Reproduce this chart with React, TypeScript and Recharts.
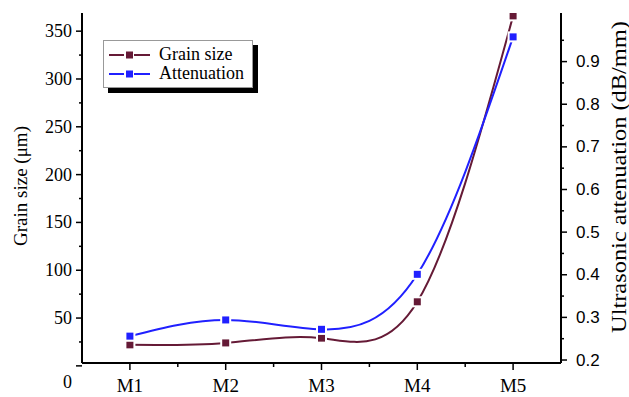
import React from 'react';
import { LineChart, Line, XAxis, YAxis, Legend } from 'recharts';

const categories = ['M1', 'M2', 'M3', 'M4', 'M5'];
const grainSize = [22, 24, 29, 67, 366];
const attenuation = [0.256, 0.294, 0.272, 0.401, 0.958];
const leftTicks = [0, 50, 100, 150, 200, 250, 300, 350];
const leftMinorTicks = [25, 75, 125, 175, 225, 275, 325];
const rightTicks = [0.2, 0.3, 0.4, 0.5, 0.6, 0.7, 0.8, 0.9];
const rightMinorTicks = [0.25, 0.35, 0.45, 0.55, 0.65, 0.75, 0.85, 0.95];
const leftTitle = 'Grain size (\u03bcm)';
const rightTitle = 'Ultrasonic attenuation (dB/mm)';
const seriesNames = ['Grain size', 'Attenuation'];

const MAROON = '#651a36';
const BLUE = '#2020ff';
const SERIF = '"Liberation Serif", "Times New Roman", serif';
const SANS = '"Liberation Sans", Arial, sans-serif';

const CHART_W = 629;
const CHART_H = 397;
const LEFT_W = 82;
const RIGHT_W = 68;
const BAND = (CHART_W - LEFT_W - RIGHT_W) / categories.length;

const data = categories.map((c, i) => ({ cat: c, grain: grainSize[i], att: attenuation[i] }));
const allLeftTicks = [...leftTicks, ...leftMinorTicks].sort((a, b) => a - b);
const allRightTicks = [...rightTicks, ...rightMinorTicks].sort((a, b) => a - b);

const makeDot = (color: string) => (props: any) => {
  const { cx, cy, index } = props;
  if (cx == null || cy == null) return <g key={index} />;
  return (
    <g key={`d-${color}-${index}`}>
      <rect x={cx - 5.5} y={cy - 5.5} width={11} height={11} fill="#fff" />
      <rect x={cx - 3.5} y={cy - 3.5} width={7} height={7} fill={color} />
    </g>
  );
};

const LEFT_MARGIN = 10;
const LeftTick = (props: any) => {
  const { x, y, payload } = props;
  const v = payload.value;
  const major = leftTicks.includes(v);
  const ax = x + LEFT_MARGIN;
  return (
    <g>
      <line x1={ax - (major ? 6 : 3)} y1={y} x2={ax} y2={y} stroke="#000" strokeWidth={1.5} />
      {major && (
        <text x={x} y={y + (v === 0 ? 16 : 0)} textAnchor="end" dominantBaseline="central"
          fontFamily={SERIF} fontSize={18} fill="#000">{v}</text>
      )}
    </g>
  );
};

const RIGHT_MARGIN = 15;
const RightTick = (props: any) => {
  const { x, y, payload } = props;
  const v = payload.value;
  const major = rightTicks.includes(v);
  const ax = x - RIGHT_MARGIN;
  return (
    <g>
      <line x1={ax} y1={y} x2={ax + (major ? 6 : 3)} y2={y} stroke="#000" strokeWidth={1.5} />
      {major && (
        <text x={x} y={y} textAnchor="start" dominantBaseline="central"
          fontFamily={SANS} fontSize={17} fill="#000">{v}</text>
      )}
    </g>
  );
};

const BOTTOM_MARGIN = 22;
const BottomTick = (props: any) => {
  const { x, y, payload, index } = props;
  const ay = y - BOTTOM_MARGIN;
  const last = index === categories.length - 1;
  return (
    <g>
      <line x1={x} y1={ay} x2={x} y2={ay + 7} stroke="#000" strokeWidth={1.5} />
      {!last && <line x1={x + BAND / 2} y1={ay} x2={x + BAND / 2} y2={ay + 4} stroke="#000" strokeWidth={1.5} />}
      <text x={x} y={y} textAnchor="middle" dominantBaseline="central"
        fontFamily={SERIF} fontSize={19} fill="#000">{payload.value}</text>
    </g>
  );
};

const TopTick = (props: any) => {
  const { x, y, index } = props;
  const last = index === categories.length - 1;
  return (
    <g>
      <line x1={x} y1={y} x2={x} y2={y + 4} stroke="#000" strokeWidth={1.5} />
      {!last && <line x1={x + BAND / 2} y1={y} x2={x + BAND / 2} y2={y + 4} stroke="#000" strokeWidth={1.5} />}
    </g>
  );
};

const LeftTitle = (props: any) => {
  const vb = props.viewBox || {};
  const cx = vb.x + 20;
  const cy = vb.y + vb.height / 2 - 2;
  return (
    <text x={cx} y={cy} transform={`rotate(-90, ${cx}, ${cy})`} textAnchor="middle" dominantBaseline="central"
      fontFamily={SERIF} fontSize={19} fill="#000">{leftTitle}</text>
  );
};

const RightTitle = (props: any) => {
  const vb = props.viewBox || {};
  const cx = vb.x + 58;
  const cy = vb.y + vb.height / 2 - 11;
  return (
    <text x={cx} y={cy} transform={`rotate(-90, ${cx}, ${cy})`} textAnchor="middle" dominantBaseline="central"
      fontFamily={SERIF} fontSize={20} textLength={312} lengthAdjust="spacingAndGlyphs" fill="#000">{rightTitle}</text>
  );
};

const LegendBox = (props: any) => {
  const payload = [...(props.payload || [])].sort(
    (a: any, b: any) => seriesNames.indexOf(a.value) - seriesNames.indexOf(b.value)
  );
  return (
    <div style={{
      width: 150, height: 48, boxSizing: 'border-box', background: '#fff', border: '1px solid #999',
      boxShadow: '5px 5px 0 #000', padding: '4px 0 0 4px', fontFamily: SERIF, fontSize: 18, color: '#000',
    }}>
      {payload.map((p: any, i: number) => (
        <div key={i} style={{ display: 'flex', alignItems: 'center', height: 19, lineHeight: '19px' }}>
          <svg width={44} height={14} style={{ display: 'block' }}>
            <line x1={1} y1={7} x2={16} y2={7} stroke={p.color} strokeWidth={2} />
            <line x1={26} y1={7} x2={42} y2={7} stroke={p.color} strokeWidth={2} />
            <rect x={18} y={3.5} width={7} height={7} fill={p.color} />
          </svg>
          <span style={{ marginLeft: 7, whiteSpace: 'nowrap' }}>{p.value}</span>
        </div>
      ))}
    </div>
  );
};

export default function App() {
  return (
    <div style={{ position: 'absolute', left: 0, top: 0, width: CHART_W, height: CHART_H, background: '#fff' }}>
      <LineChart width={CHART_W} height={CHART_H} data={data} margin={{ top: 13, right: 0, bottom: 0, left: 0 }}>
        <XAxis dataKey="cat" xAxisId="main" scale="band" tick={BottomTick} tickSize={0} tickMargin={BOTTOM_MARGIN}
          height={34} axisLine={{ stroke: '#000', strokeWidth: 2 }} tickLine={false} interval={0} />
        <XAxis dataKey="cat" xAxisId="top" orientation="top" scale="band" tick={TopTick} tickSize={0} tickMargin={0}
          height={0} axisLine={{ stroke: '#000', strokeWidth: 2 }} tickLine={false} interval={0} />
        <YAxis yAxisId="left" domain={[3, 369]} ticks={allLeftTicks} tick={LeftTick} tickSize={0}
          tickMargin={LEFT_MARGIN} width={LEFT_W} axisLine={{ stroke: '#000', strokeWidth: 2 }} tickLine={false}
          interval={0} allowDataOverflow label={<LeftTitle />} />
        <YAxis yAxisId="right" orientation="right" domain={[0.193, 1.014]} ticks={allRightTicks} tick={RightTick}
          tickSize={0} tickMargin={RIGHT_MARGIN} width={RIGHT_W} axisLine={{ stroke: '#000', strokeWidth: 2 }}
          tickLine={false} interval={0} allowDataOverflow label={<RightTitle />} />
        <Legend layout="vertical" align="center" verticalAlign="middle" content={LegendBox}
          wrapperStyle={{ left: 103, top: 40, width: 150, height: 48 }} />
        <Line xAxisId="main" yAxisId="left" type="natural" dataKey="grain" name={seriesNames[0]} stroke={MAROON}
          strokeWidth={2} dot={makeDot(MAROON)} activeDot={false} isAnimationActive={false} />
        <Line xAxisId="main" yAxisId="right" type="natural" dataKey="att" name={seriesNames[1]} stroke={BLUE}
          strokeWidth={2} dot={makeDot(BLUE)} activeDot={false} isAnimationActive={false} />
      </LineChart>
    </div>
  );
}
